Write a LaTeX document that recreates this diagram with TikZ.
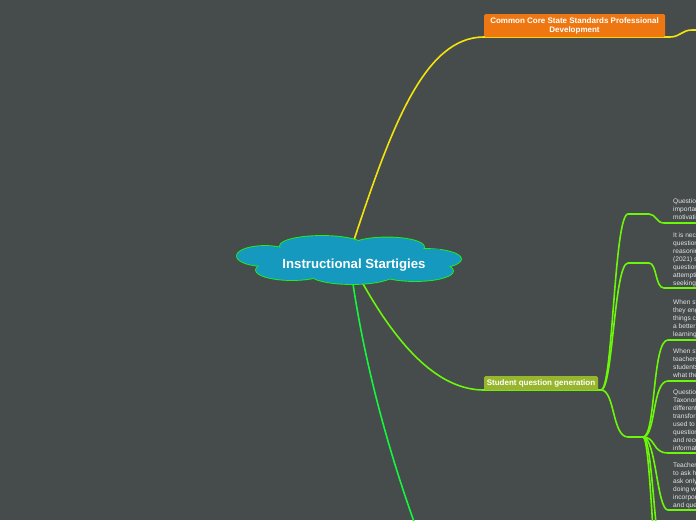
\documentclass[tikz,border=0pt]{standalone}
\usepackage{fontspec}
\newfontfamily\mapfont{Liberation Sans}
\definecolor{mapbg}{HTML}{464B4B}
\definecolor{rootfill}{HTML}{1599BE}
\definecolor{rootline}{HTML}{1EF01E}
\definecolor{ccorange}{HTML}{EE7712}
\definecolor{sqgolive}{HTML}{98B52E}
\definecolor{yellowbranch}{HTML}{F2E40C}
\definecolor{limebranch}{HTML}{6CF70A}
\definecolor{greenbranch}{HTML}{14F53C}
\definecolor{leafgray}{HTML}{E4E4E4}
\tikzset{
  topicbox/.style={rectangle, rounded corners=1.5pt, inner sep=0pt, text=white, align=center,
                   font=\mapfont\bfseries\fontsize{8}{9}\selectfont},
  leaftext/.style={anchor=north west, inner sep=0pt, text=leafgray, align=left,
                   font=\mapfont\fontsize{6.6}{8}\selectfont},
  branch/.style={line width=1.6pt}
}
\begin{document}
\begin{tikzpicture}[x=1pt,y=-1pt]
    \useasboundingbox (0,0) rectangle (696,520);
    \clip (0,0) rectangle (696,520);
    \fill[mapbg] (0,0) rectangle (696,520);                                                  % Hintergrund

    % Anschlusspunkte
    \coordinate (rootN)  at (354,240);
    \coordinate (rootSE) at (362,282);
    \coordinate (rootS)  at (353,284);
    \coordinate (offmain) at (436,580);
    \coordinate (ccssend) at (700,30);
    \coordinate (sqgend) at (601,390);
    \coordinate (hub)    at (643,437);
    \coordinate (offA)   at (668,575);
    \coordinate (offB)   at (668,640);

    % Zweige vom Zentrum
    \draw[branch, yellowbranch] (rootN) .. controls (392,125) and (425,37) .. (484,37) -- (670,37)
          .. controls (680,37) and (682,30) .. (692,30) -- (ccssend);                          % Zweig oben
    \draw[branch, limebranch] (rootSE) .. controls (400,350) and (440,390) .. (484,390) -- (sqgend); % Zweig Mitte
    \draw[branch, greenbranch] (rootS) .. controls (366,370) and (392,470) .. (offmain);      % Zweig unten

    % Wolke
    \foreach \cx/\cy/\rx/\ry in {265/256/28/10, 322/246/42/10, 387/247/37/9.5, 425/259/36/10,
                                 415/271/38/10, 352/274/42/10, 292/270/36/10}
      \draw[rootline, line width=1.8pt] (\cx,\cy) ellipse ({\rx} and {\ry});
    \foreach \cx/\cy/\rx/\ry in {265/256/28/10, 322/246/42/10, 387/247/37/9.5, 425/259/36/10,
                                 415/271/38/10, 352/274/42/10, 292/270/36/10}
      \fill[rootfill] (\cx,\cy) ellipse ({\rx} and {\ry});
    \fill[rootfill] (272,249) rectangle (440,274);
    \node[text=white, font=\mapfont\bfseries\fontsize{13.2}{15}\selectfont] (root) at (354,265) {Instructional Startigies};

    % Themen
    \node[topicbox, fill=ccorange, minimum width=181pt, minimum height=23pt] (ccss) at (574.5,25.5)
          {Common Core State Standards Professional\\Development};
    \node[topicbox, fill=sqgolive, minimum width=114pt, minimum height=14pt] (sqg) at (541,383)
          {Student question generation};

    % Blaetter
    \node[leaftext] (leafa) at (673,198.7) {Question\\important\\motivation};
    \node[leaftext] (leafb) at (673,232.7) {It is neces\\questions\\reasoning\\(2021) sta\\questions\\attempting\\seeking};
    \node[leaftext] (leafc) at (673,299.7) {When stu\\they enga\\things cor\\a better\\learning};
    \node[leaftext] (leafd) at (673,348.7) {When stu\\teachers\\students\\what they};
    \node[leaftext] (leafe) at (673,389.7) {Question\\Taxonomy\\different\\transform\\used to\\questions\\and reco\\informatio};
    \node[leaftext] (leaff) at (673,462.7) {Teachers\\to ask hig\\ask only\\doing wel\\incorpora\\and ques};

    % Verbindungen
    \draw[branch, limebranch] (sqgend) .. controls (613,390) and (614,214) .. (628,214) -- (649,214)
          .. controls (656,214) and (656,223) .. (664,223) -- (700,223);                         % zu leafa
    \draw[branch, limebranch] (sqgend) .. controls (613,390) and (614,263) .. (628,263) -- (649,263)
          .. controls (657,263) and (655,288) .. (664,288) -- (700,288);                         % zu leafb
    \draw[branch, limebranch] (sqgend) .. controls (615,390) and (612,437) .. (628,437) -- (hub); % zu hub
    \draw[branch, limebranch] (hub) .. controls (656,437) and (652,340) .. (668,340) -- (700,340); % zu leafc
    \draw[branch, limebranch] (hub) .. controls (656,437) and (652,381) .. (668,381) -- (700,381); % zu leafd
    \draw[branch, limebranch] (hub) .. controls (656,437) and (652,453) .. (668,453) -- (700,453); % zu leafe
    \draw[branch, limebranch] (hub) .. controls (656,437) and (657,510) .. (668,510) -- (700,510); % zu leaff
    \draw[branch, limebranch] (hub) .. controls (654,437) and (654,575) .. (offA);               % weiter unten
    \draw[branch, limebranch] (hub) .. controls (652,437) and (654,640) .. (offB);               % weiter unten
\end{tikzpicture}
\end{document}
